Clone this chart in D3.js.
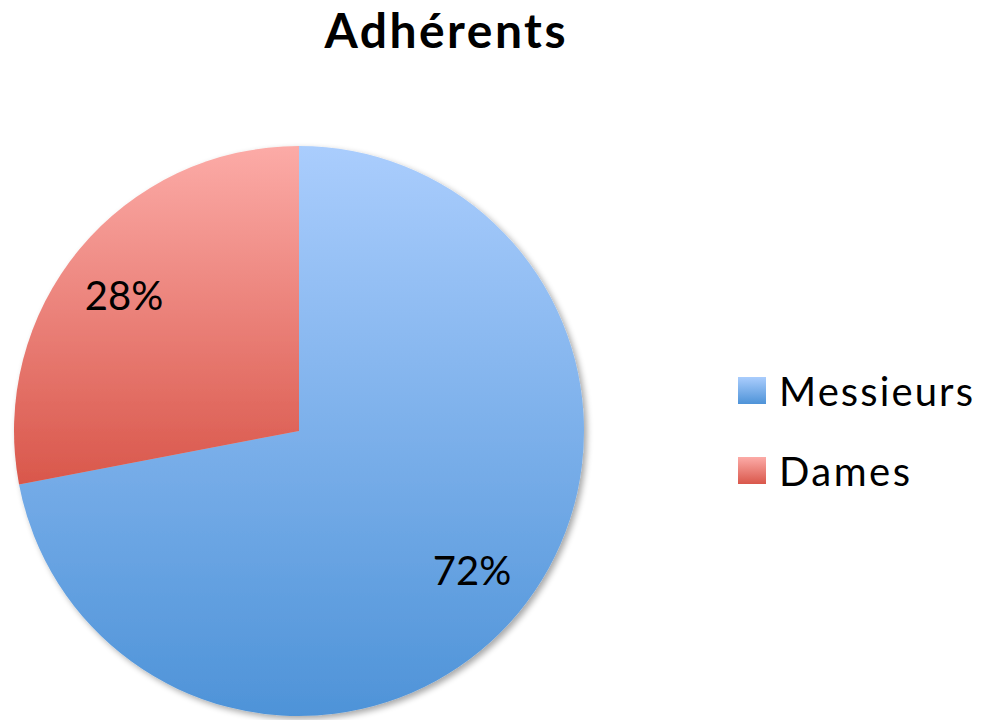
<!DOCTYPE html>
<html>
<head>
<meta charset="utf-8">
<script src="https://cdn.jsdelivr.net/npm/d3@7"></script>
<style>
  body { margin: 0; background: #fff; }
  text { font-family: Lato, "Open Sans", sans-serif; }
</style>
</head>
<body>
<svg id="chart"></svg>
<script>
var width = 981, height = 720

var categories = ["Messieurs", "Dames"]
var values = [72, 28]
var labels = ["72%", "28%"]
var topColours = ["#aacdfd", "#fcaba7"]
var bottomColours = ["#4e93d8", "#d9574b"]

var svg = d3.select("#chart")
    .attr("width", width)
    .attr("height", height)

var cx = 299, cy = 431, r = 285

var defs = svg.append("defs")

categories.forEach(function(c, i) {
    // gradient runs over each slice's own box, set once the paths exist
    var grad = defs.append("linearGradient")
        .attr("id", "grad" + i)
        .attr("gradientUnits", "userSpaceOnUse")
        .attr("x1", 0).attr("x2", 0)
    grad.append("stop").attr("offset", "0%").attr("stop-color", topColours[i])
    grad.append("stop").attr("offset", "100%").attr("stop-color", bottomColours[i])

    var lg = defs.append("linearGradient")
        .attr("id", "lgrad" + i)
        .attr("x1", 0).attr("y1", 0)
        .attr("x2", 0).attr("y2", 1)
    lg.append("stop").attr("offset", "0%").attr("stop-color", topColours[i])
    lg.append("stop").attr("offset", "100%").attr("stop-color", bottomColours[i])
})

var shadow = defs.append("filter")
    .attr("id", "shadow")
    .attr("x", "-10%").attr("y", "-10%")
    .attr("width", "120%").attr("height", "120%")
shadow.append("feGaussianBlur").attr("in", "SourceAlpha").attr("stdDeviation", 3)
shadow.append("feOffset").attr("dx", 3).attr("dy", 3).attr("result", "blur")
shadow.append("feComponentTransfer").append("feFuncA").attr("type", "linear").attr("slope", 0.35)
var merge = shadow.append("feMerge")
merge.append("feMergeNode")
merge.append("feMergeNode").attr("in", "SourceGraphic")

svg.append("text")
    .attr("x", 445)
    .attr("y", 48)
    .attr("text-anchor", "middle")
    .attr("font-size", 48)
    .attr("font-weight", "bold")
    .attr("textLength", 241)
    .attr("lengthAdjust", "spacing")
    .text("Adhérents")

var pie = d3.pie().sort(null).value(d => d)
var arc = d3.arc().innerRadius(0).outerRadius(r)
var arcs = pie(values)

var g = svg.append("g")
    .attr("transform", "translate(" + cx + "," + cy + ")")

g.append("g")
    .attr("filter", "url(#shadow)")
    .selectAll("path")
    .data(arcs)
    .enter()
    .append("path")
    .attr("d", arc)
    .attr("fill", (d, i) => "url(#grad" + i + ")")
    .each(function(d, i) {
        var box = this.getBBox()
        d3.select("#grad" + i)
            .attr("y1", box.y)
            .attr("y2", box.y + box.height)
    })

var labelPos = [[472, 585], [124, 310]]

g.selectAll("text.label")
    .data(arcs)
    .enter()
    .append("text")
    .attr("class", "label")
    .attr("x", (d, i) => labelPos[i][0] - cx)
    .attr("y", (d, i) => labelPos[i][1] - cy)
    .attr("text-anchor", "middle")
    .attr("font-size", 40)
    .text((d, i) => labels[i])

var legend = svg.append("g")
    .attr("transform", "translate(738,377)")

var item = legend.selectAll("g")
    .data(categories)
    .enter()
    .append("g")
    .attr("transform", (d, i) => "translate(0," + (i * 80) + ")")

item.append("rect")
    .attr("width", 28)
    .attr("height", 27)
    .attr("fill", (d, i) => "url(#lgrad" + i + ")")

item.append("text")
    .attr("x", 41)
    .attr("y", 29)
    .attr("font-size", 40)
    .attr("textLength", (d, i) => i == 0 ? 194 : 131)
    .attr("lengthAdjust", "spacing")
    .text(d => d)
</script>
</body>
</html>
